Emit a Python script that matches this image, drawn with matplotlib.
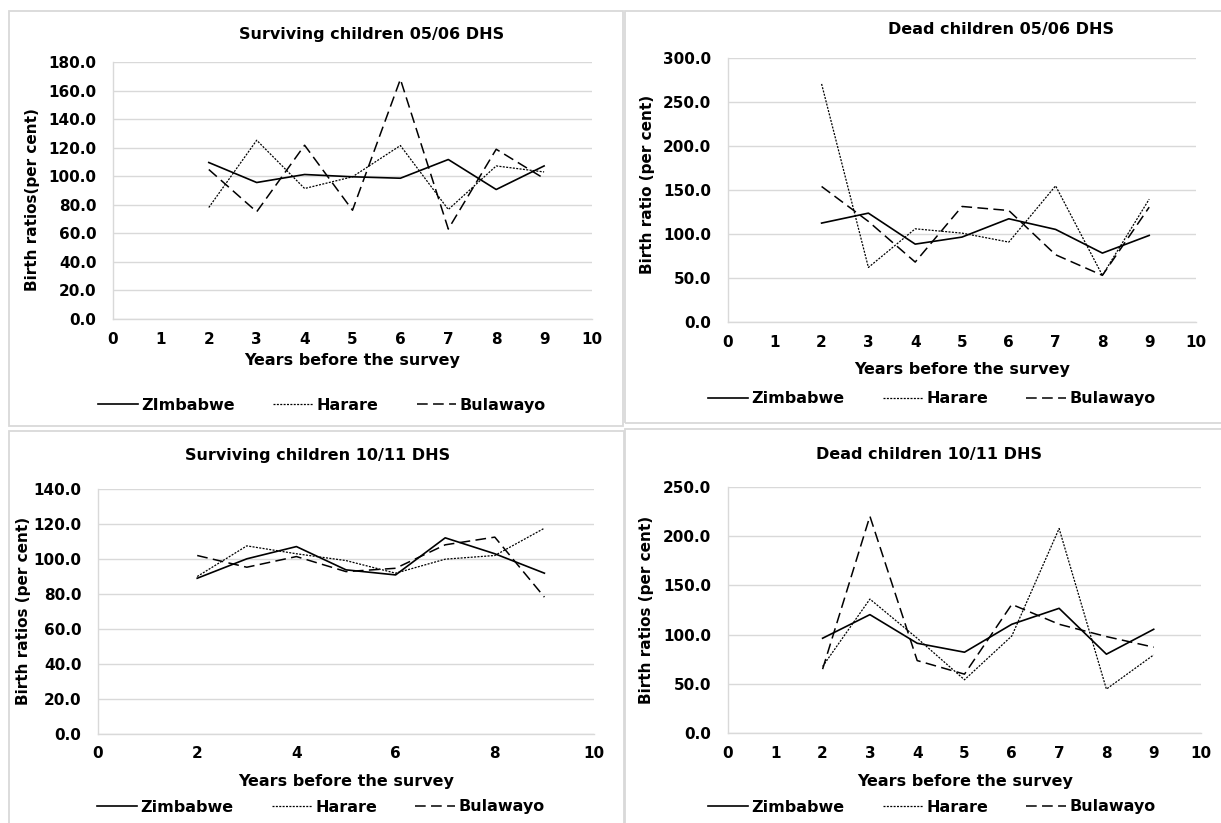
import matplotlib
matplotlib.use("Agg")
import matplotlib.pyplot as plt
from matplotlib.patches import Rectangle

plt.rcParams['font.family'] = ['DejaVu Sans']
plt.rcParams['font.weight'] = 'bold'

years = [2, 3, 4, 5, 6, 7, 8, 9]

surv0506_zim = [109.6, 95.6, 101.2, 99.6, 98.6, 111.7, 90.7, 107.2]
surv0506_har = [78.1, 125.2, 91.4, 99.6, 121.5, 76.7, 107.2, 103.0]
surv0506_bul = [104.7, 75.1, 121.7, 76.2, 167.9, 63.0, 118.9, 98.4]

dead0506_zim = [112.4, 123.7, 88.5, 96.5, 117.3, 105.2, 78.3, 98.4]
dead0506_har = [270.5, 62.0, 105.9, 101.0, 90.8, 154.7, 53.0, 139.6]
dead0506_bul = [154.0, 114.3, 68.1, 131.3, 126.7, 76.4, 53.0, 130.5]

surv1011_zim = [89.0, 100.1, 107.1, 93.8, 90.9, 112.1, 103.0, 91.9]
surv1011_har = [90.0, 107.5, 103.0, 99.1, 91.9, 99.9, 102.0, 117.6]
surv1011_bul = [102.0, 95.3, 101.4, 92.8, 94.7, 108.1, 112.5, 78.2]

dead1011_zim = [96.3, 120.3, 91.2, 82.1, 110.5, 126.7, 80.1, 105.4]
dead1011_har = [67.6, 136.1, 96.3, 54.1, 98.6, 207.8, 44.6, 79.4]
dead1011_bul = [64.9, 220.3, 73.6, 59.8, 130.7, 110.5, 98.0, 87.2]

W, H = 1221, 823
GRID = '#d9d9d9'


def fx(px):
    return px / W


def fy(py):
    return 1 - py / H


fig = plt.figure(figsize=(W / 100, H / 100), dpi=100)

# chart-area borders
for l, t, r, b in [(9, 11, 622.5, 426.5), (624.5, 11, 1240, 423),
                   (8.5, 431, 624, 840), (625, 429, 1240, 840)]:
    fig.patches.append(Rectangle((fx(l), fy(b)), (r - l) / W, (b - t) / H,
                                 transform=fig.transFigure, fill=False,
                                 edgecolor=GRID, lw=1.3))

panels = [
    dict(box=(113, 62, 592, 319), ymax=180, ystep=20, xstep=1,
         data=(surv0506_zim, surv0506_har, surv0506_bul),
         names=['ZImbabwe', 'Harare', 'Bulawayo'],
         title='Surviving children 05/06 DHS', tpos=(372, 39),
         ylabel='Birth ratios(per cent)', ypos=(33, 200),
         xlpos=(352, 365), legpos=(322, 405)),
    dict(box=(728, 58, 1196, 322), ymax=300, ystep=50, xstep=1,
         data=(dead0506_zim, dead0506_har, dead0506_bul),
         names=['Zimbabwe', 'Harare', 'Bulawayo'],
         title='Dead children 05/06 DHS', tpos=(1001, 34),
         ylabel='Birth ratio (per cent)', ypos=(648, 184),
         xlpos=(962, 374), legpos=(932, 399)),
    dict(box=(98, 489, 594, 734), ymax=140, ystep=20, xstep=2,
         data=(surv1011_zim, surv1011_har, surv1011_bul),
         names=['Zimbabwe', 'Harare', 'Bulawayo'],
         title='Surviving children 10/11 DHS', tpos=(318, 460),
         ylabel='Birth ratios (per cent)', ypos=(24, 611),
         xlpos=(346, 786), legpos=(321, 807)),
    dict(box=(728, 487, 1201, 733), ymax=250, ystep=50, xstep=1,
         data=(dead1011_zim, dead1011_har, dead1011_bul),
         names=['Zimbabwe', 'Harare', 'Bulawayo'],
         title='Dead children 10/11 DHS', tpos=(929, 459),
         ylabel='Birth ratios (per cent)', ypos=(646, 610),
         xlpos=(965, 786), legpos=(932, 807)),
]

styles = [dict(ls='-', lw=1.2),
          dict(ls=(0, (1.6, 1.1)), lw=0.9),
          dict(ls=(0, (7, 3.5)), lw=1.1)]

for p in panels:
    l, t, r, b = p['box']
    ax = fig.add_axes([fx(l), fy(b), (r - l) / W, (b - t) / H])
    for vals, name, st in zip(p['data'], p['names'], styles):
        ax.plot(years, vals, color='black', label=name, **st)
    ax.set_xlim(0, 10)
    ax.set_ylim(0, p['ymax'])
    ax.set_xticks(range(0, 11, p['xstep']))
    yt = list(range(0, p['ymax'] + 1, p['ystep']))
    ax.set_yticks(yt)
    ax.set_yticklabels([f'{v:.1f}' for v in yt])
    ax.grid(axis='y', color=GRID, lw=1.0)
    ax.set_axisbelow(True)
    for s in ['top', 'right']:
        ax.spines[s].set_visible(False)
    for s in ['left', 'bottom']:
        ax.spines[s].set_color(GRID)
        ax.spines[s].set_linewidth(1.0)
    ax.tick_params(axis='y', length=0, pad=12, labelsize=11)
    ax.tick_params(axis='x', length=0, pad=9, labelsize=11)

    fig.text(fx(p['tpos'][0]), fy(p['tpos'][1]), p['title'], ha='center',
             va='baseline', fontsize=11.5, fontweight='bold')
    fig.text(fx(p['xlpos'][0]), fy(p['xlpos'][1]), 'Years before the survey',
             ha='center', va='baseline', fontsize=11.5, fontweight='bold')
    fig.text(fx(p['ypos'][0]), fy(p['ypos'][1]), p['ylabel'], rotation=90,
             ha='center', va='center', fontsize=11, fontweight='bold')
    ax.legend(loc='center', bbox_to_anchor=(fx(p['legpos'][0]), fy(p['legpos'][1])),
              bbox_transform=fig.transFigure, ncol=3, frameon=False,
              handlelength=2.5, handletextpad=0.2, columnspacing=2.4,
              prop={'size': 11.5, 'weight': 'bold'})

fig.savefig('out.png', dpi=100)
